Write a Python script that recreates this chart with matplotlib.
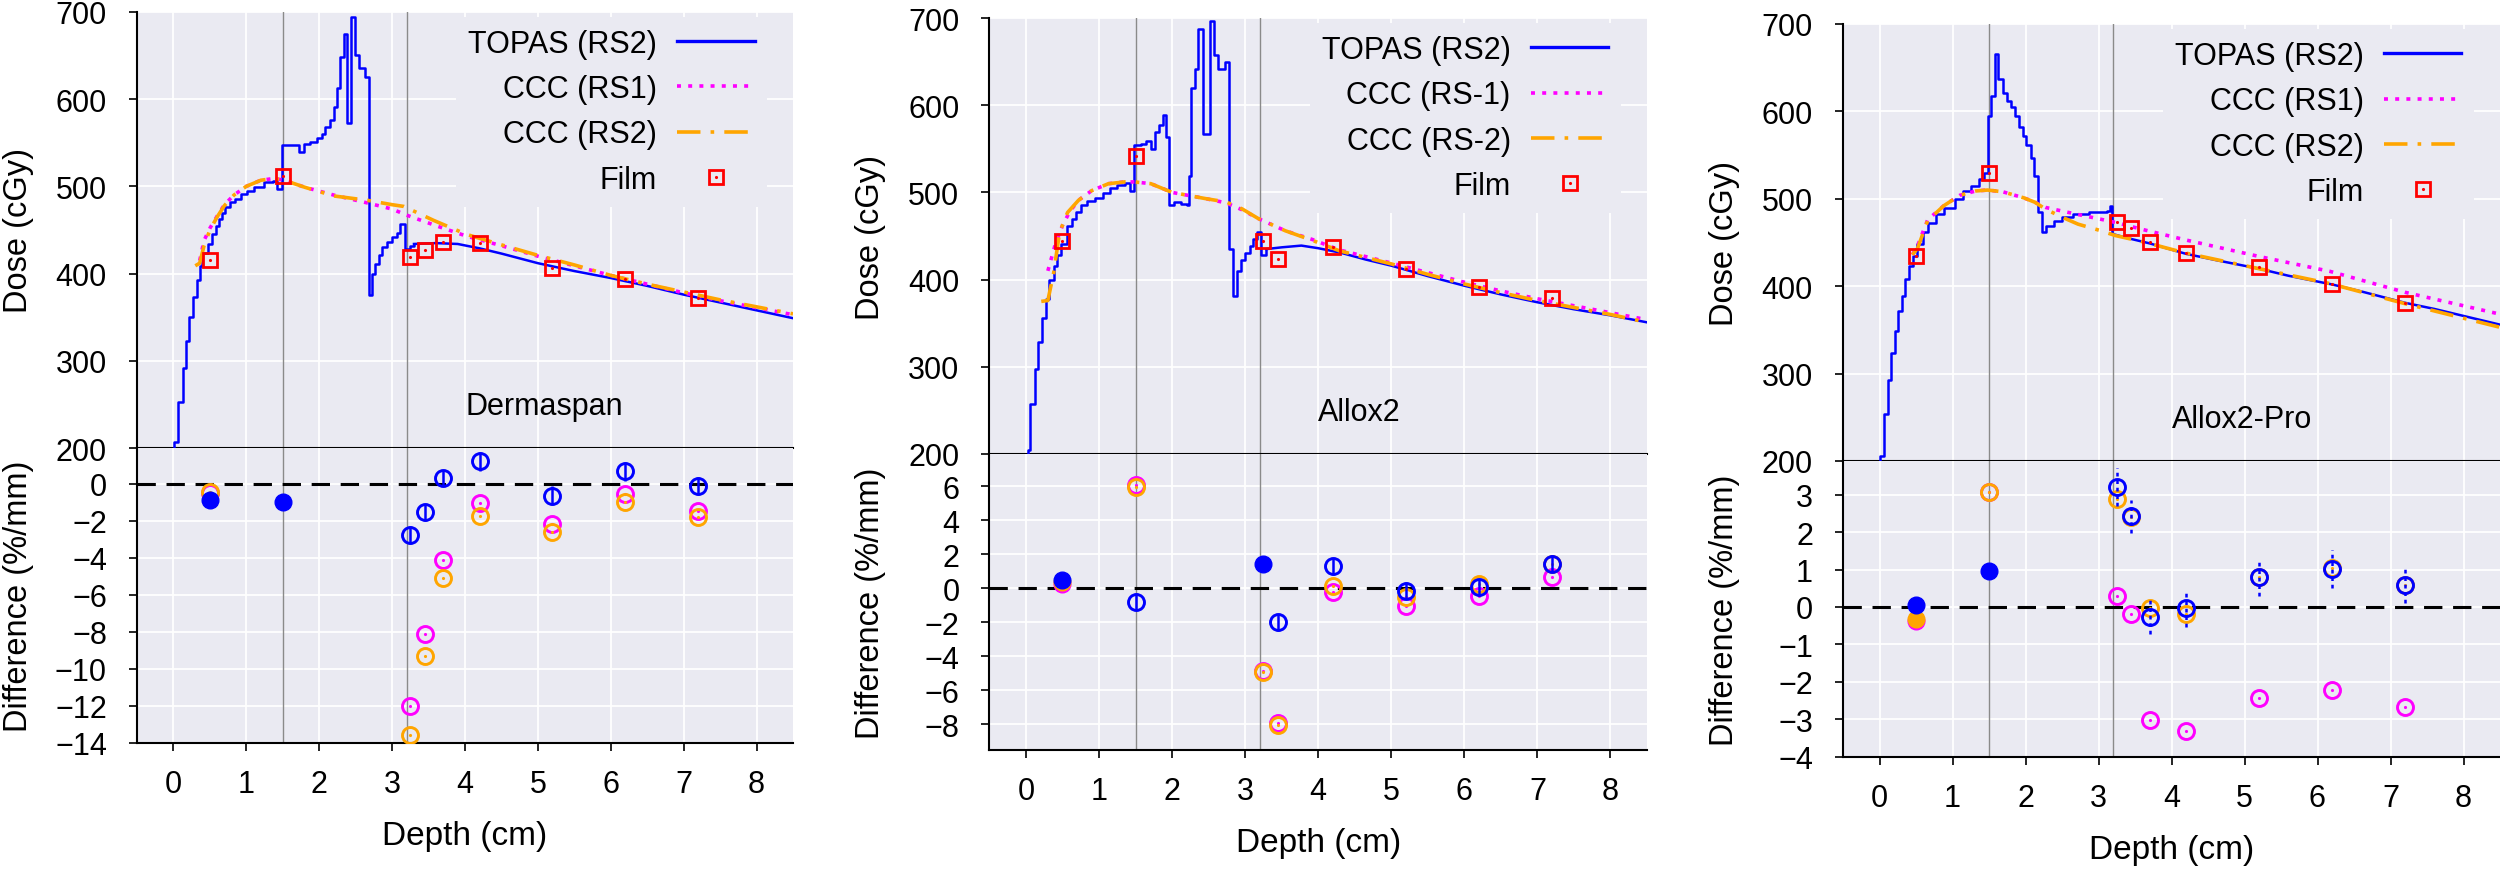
import matplotlib
matplotlib.use("Agg")
import matplotlib.pyplot as plt
import numpy as np
from matplotlib.legend_handler import HandlerTuple

plt.rcParams['font.family'] = ['Liberation Sans', 'DejaVu Sans']

# ---------------- depth dose curves (cGy) ----------------
# Dermaspan
d1_step_depth = [0.01, 0.01, 0.06, 0.13, 0.17, 0.22, 0.27, 0.32, 0.36, 0.39, 0.47, 0.53, 0.58, 0.62,
                 0.67, 0.71, 0.78, 0.85, 0.92, 1.01, 1.10, 1.24, 1.36, 1.42, 1.49, 1.72, 1.79, 1.88,
                 1.97, 2.04, 2.08, 2.15, 2.20, 2.25, 2.29, 2.34, 2.38, 2.43, 2.49, 2.54, 2.63, 2.68,
                 2.73, 2.77, 2.82, 2.86, 2.93, 3.00, 3.07, 3.11, 3.18, 3.25, 3.30]
d1_step_dose = [150, 207, 253, 292, 323, 350, 373, 393, 409, 424, 434, 445, 455, 463,
                470, 476, 482, 486, 491, 495, 499, 505, 506, 497, 547, 539, 548, 551,
                555, 560, 568, 576, 591, 613, 648, 674, 572, 694, 650, 635, 625, 375,
                400, 411, 421, 430, 436, 442, 447, 457, 428, 432, 434]
d1_tail_depth = [3.30, 3.6, 3.9, 4.2, 4.5, 5.0, 5.5, 6.0, 6.5, 7.0, 7.5, 8.0, 8.5]
d1_tail_dose = [434, 435, 434, 429, 423, 412, 403, 395, 386, 376, 367, 358, 349]
d1_rs1_depth = [0.36, 0.42, 0.5, 0.6, 0.7, 0.83, 1.0, 1.2, 1.38, 1.52, 1.8, 2.2, 2.66, 3.0, 3.2,
                3.4, 3.6, 4.02, 4.5, 5.0, 5.5, 6.0, 6.5, 7.0, 7.5, 8.0, 8.5]
d1_rs1_dose = [415, 438, 452, 466, 479, 490, 500, 507, 509, 507, 499, 490, 481, 474, 467,
               461, 455, 443, 432, 420, 409, 398, 388, 378, 369, 361, 353]
d1_rs2_depth = [0.3, 0.36, 0.42, 0.5, 0.6, 0.7, 0.83, 1.0, 1.2, 1.38, 1.52, 1.8, 2.2, 2.66, 3.0,
                3.16, 3.34, 3.57, 4.02, 4.5, 5.0, 5.5, 6.0, 6.5, 7.0, 7.5, 8.0, 8.5]
d1_rs2_dose = [409, 412, 432, 450, 465, 478, 490, 500, 507, 509, 507, 499, 489, 484, 479,
               477, 470, 461, 445, 433, 421, 410, 398, 388, 379, 370, 362, 354]
d1_film_depth = [0.5, 1.5, 3.25, 3.45, 3.7, 4.2, 5.2, 6.2, 7.2]
d1_film_dose = [416, 512, 419, 427, 436, 435, 407, 394, 372]

# Allox2
d2_step_depth = [0.03, 0.03, 0.06, 0.12, 0.17, 0.22, 0.28, 0.32, 0.38, 0.43, 0.48, 0.56, 0.63, 0.68,
                 0.76, 0.83, 0.94, 1.05, 1.15, 1.25, 1.35, 1.42, 1.48, 1.57, 1.64, 1.71, 1.77, 1.82,
                 1.88, 1.92, 1.96, 2.02, 2.12, 2.21, 2.23, 2.26, 2.32, 2.36, 2.43, 2.52, 2.58, 2.63,
                 2.73, 2.78, 2.83, 2.89, 2.94, 3.00, 3.06, 3.11, 3.16, 3.22, 3.29]
d2_step_dose = [150, 205, 257, 298, 329, 356, 378, 400, 416, 428, 441, 461, 470, 477,
                485, 490, 494, 499, 505, 509, 511, 502, 554, 556, 559, 550, 569, 577,
                589, 564, 485, 489, 487, 485, 519, 620, 642, 687, 567, 696, 658, 642,
                649, 435, 381, 410, 422, 430, 439, 447, 455, 428, 435]
d2_tail_depth = [3.29, 3.5, 3.77, 4.0, 4.3, 4.65, 5.0, 5.5, 6.0, 6.5, 7.0, 7.5, 8.0, 8.5]
d2_tail_dose = [435, 437, 439, 436, 431, 423, 416, 404, 393, 383, 374, 366, 359, 351]
d2_rs1_depth = [0.3, 0.4, 0.5, 0.6, 0.72, 0.9, 1.13, 1.35, 1.49, 1.71, 2.0, 2.45, 2.74, 2.96,
                3.18, 3.55, 3.92, 4.29, 5.0, 5.5, 6.0, 6.5, 7.0, 7.5, 8.0, 8.5]
d2_rs1_dose = [410, 440, 462, 478, 491, 502, 510, 512, 512, 510, 500, 493, 488, 480,
               470, 456, 446, 434, 419, 408, 397, 387, 378, 370, 362, 354]
d2_rs2_depth = [0.21, 0.3, 0.38, 0.46, 0.57, 0.72, 0.9, 1.13, 1.35, 1.49, 1.71, 2.0, 2.45, 2.74,
                2.96, 3.18, 3.55, 3.92, 4.29, 5.0, 5.5, 6.0, 6.5, 7.0, 7.5, 8.0, 8.5]
d2_rs2_dose = [375, 376, 408, 454, 477, 491, 502, 510, 512, 512, 510, 500, 493, 489,
               481, 470, 456, 445, 433, 418, 406, 395, 385, 376, 368, 360, 351]
d2_film_depth = [0.5, 1.5, 3.25, 3.45, 4.2, 5.2, 6.2, 7.2]
d2_film_dose = [444, 542, 444, 424, 437, 412, 392, 379]

# Allox2-Pro
d3_step_depth = [0.0, 0.0, 0.06, 0.11, 0.16, 0.21, 0.26, 0.31, 0.35, 0.40, 0.46, 0.52, 0.59, 0.66,
                 0.77, 0.88, 1.03, 1.14, 1.25, 1.36, 1.43, 1.48, 1.53, 1.58, 1.63, 1.69, 1.75, 1.80,
                 1.85, 1.91, 1.97, 2.01, 2.07, 2.12, 2.17, 2.22, 2.28, 2.39, 2.50, 2.65, 2.87, 3.12,
                 3.16, 3.18]
d3_step_dose = [150, 206, 254, 293, 324, 349, 372, 389, 408, 423, 435, 448, 462, 472,
                483, 490, 500, 509, 515, 523, 530, 595, 618, 666, 637, 621, 612, 605,
                595, 582, 572, 561, 547, 526, 485, 462, 469, 475, 479, 483, 485, 486,
                492, 460]
d3_tail_depth = [3.18, 3.4, 3.7, 4.2, 4.6, 5.2, 5.6, 6.2, 6.6, 7.2, 7.6, 8.0, 8.5]
d3_tail_dose = [460, 455, 449, 437, 430, 420, 412, 402, 394, 381, 374, 366, 356]
d3_rs1_depth = [0.45, 0.52, 0.66, 0.88, 1.1, 1.32, 1.48, 1.69, 1.98, 2.13, 2.28, 2.5, 2.72,
                3.01, 3.23, 3.6, 4.19, 5.2, 6.17, 7.2, 8.5]
d3_rs1_dose = [436, 446, 476, 492, 504, 509, 510, 508, 501, 496, 490, 486, 482,
               477, 473, 465, 453, 434, 417, 393, 368]
d3_rs2_depth = [0.45, 0.52, 0.66, 0.88, 1.1, 1.32, 1.48, 1.69, 1.98, 2.13, 2.28, 2.5, 2.72,
                3.01, 3.23, 3.6, 4.19, 5.2, 6.17, 7.2, 8.5]
d3_rs2_dose = [436, 443, 475, 492, 504, 509, 510, 508, 501, 496, 488, 479, 471,
               464, 458, 451, 438, 420, 403, 380, 353]
d3_film_depth = [0.5, 1.5, 3.25, 3.45, 3.7, 4.2, 5.2, 6.2, 7.2]
d3_film_dose = [434, 529, 474, 467, 450, 438, 422, 403, 381]

# ---------------- differences (%/mm) ----------------
nan = np.nan
diff1_depth = [0.5, 1.5, 3.25, 3.45, 3.7, 4.2, 5.2, 6.2, 7.2]
diff1_topas = [-0.9, -1.02, -2.79, -1.56, 0.29, 1.19, -0.66, 0.65, -0.13]
diff1_err = [nan, nan, 0.5, 0.45, 0.45, 0.5, 0.5, 0.5, 0.5]
diff1_rs1 = [-0.5, nan, -12.0, -8.12, -4.12, -1.06, -2.19, -0.58, -1.47]
diff1_rs2 = [-0.45, nan, -13.57, -9.29, -5.12, -1.74, -2.64, -0.99, -1.83]
diff1_ccc_filled = [0, 0, 0, 0, 0, 0, 0, 0, 0]

diff2_depth = [0.5, 1.5, 3.25, 3.45, 4.2, 5.2, 6.2, 7.2]
diff2_topas = [0.49, -0.79, 1.4, -2.0, 1.3, -0.14, 0.06, 1.44]
diff2_err = [nan, 0.5, nan, 0.5, 0.5, 0.5, 0.5, 0.5]
diff2_rs1 = [0.26, 6.1, -4.85, -7.95, -0.24, -1.02, -0.43, 0.65]
diff2_rs2 = [0.35, 5.96, -4.9, -8.06, 0.16, -0.53, 0.26, 1.44]
diff2_ccc_filled = [1, 0, 0, 0, 0, 0, 0, 0]

diff3_depth = [0.5, 1.5, 3.25, 3.45, 3.7, 4.2, 5.2, 6.2, 7.2]
diff3_topas = [0.04, 0.95, 3.21, 2.42, -0.26, -0.04, 0.79, 1.02, 0.6]
diff3_err = [nan, nan, 0.5, 0.45, 0.45, 0.5, 0.5, 0.5, 0.5]
diff3_rs1 = [-0.37, 3.06, 0.3, -0.2, -3.01, -3.32, -2.44, -2.22, -2.66]
diff3_rs2 = [-0.32, 3.06, 2.89, 2.4, -0.04, -0.19, 0.79, 1.05, 0.6]
diff3_ccc_filled = [1, 0, 0, 0, 0, 0, 0, 0, 0]

materials = ["Dermaspan", "Allox2", "Allox2-Pro"]
labels1 = ["TOPAS (RS2)", "CCC (RS1)", "CCC (RS2)", "Film"]
labels2 = ["TOPAS (RS2)", "CCC (RS-1)", "CCC (RS-2)", "Film"]
labels3 = ["TOPAS (RS2)", "CCC (RS1)", "CCC (RS2)", "Film"]
interfaces = [1.5, 3.2]

BG = '#EAEAF2'
BLUE = '#0000FF'
MAG = '#FF00FF'
ORA = '#FFA500'

W, H = 2500, 870
fig = plt.figure(figsize=(W / 100, H / 100), dpi=100)

# pixel boxes: left, right, top, split, bottom
boxes = [(137, 793, 12.7, 449.3, 744), (989.4, 1647, 19, 455, 750.7), (1843, 2500, 25, 462, 757.7)]


def style(ax):
    ax.set_facecolor(BG)
    ax.grid(True, color='white', lw=1.3)
    ax.set_axisbelow(True)
    ax.spines['top'].set_visible(False)
    ax.spines['right'].set_visible(False)
    ax.spines['left'].set_linewidth(1.5)
    ax.spines['bottom'].set_linewidth(1.5)
    ax.tick_params(labelsize=22, width=1.2, length=6, direction='out')
    ax.tick_params(axis='x', pad=12.7)
    ax.tick_params(axis='y', pad=15.6)
    ax.set_xlim(-0.5, 8.5)
    ax.set_xticks(range(0, 9))
    for x in interfaces:
        ax.axvline(x, color='#8a8a8a', lw=1, zorder=1.5)


def panel(box, step, tail, rs1, rs2, film, diff, labels, name, ylim_b, yticks_b, dotted_err):
    l, r, t, s, b = box
    top = fig.add_axes([l / W, 1 - s / H, (r - l) / W, (s - t) / H])
    bot = fig.add_axes([l / W, 1 - b / H, (r - l) / W, (b - s) / H])

    style(top)
    top.set_ylim(200, 700)
    top.set_yticks(range(200, 701, 100))
    top.tick_params(axis='x', labelbottom=False, length=5)
    top.set_ylabel("Dose (cGy)", fontsize=23.5)
    top.yaxis.set_label_coords(-0.157, 0.5)

    top.plot(step[0], step[1], drawstyle='steps-post', color=BLUE, lw=1.8, zorder=3)
    h_topas, = top.plot(tail[0], tail[1], color=BLUE, lw=1.8, zorder=3)
    h_rs1, = top.plot(rs1[0], rs1[1], color=MAG, lw=2.6, ls=(0, (1.1, 2.0)), zorder=4)
    h_rs2, = top.plot(rs2[0], rs2[1], color=ORA, lw=2.6, ls=(0, (6.5, 2.8, 1, 2.8)), zorder=4)
    h_sq, = top.plot(film[0], film[1], 's', ms=10.5, mfc='none', mec='red', mew=2.0, zorder=5)
    h_dot, = top.plot(film[0], film[1], '.', ms=2.5, color='red', zorder=5)
    top.text(4.0, 248, name, ha='left', va='center', fontsize=22)

    leg = top.legend([h_topas, h_rs1, h_rs2, (h_sq, h_dot)], labels,
                     handler_map={tuple: HandlerTuple(ndivide=1)},
                     loc='upper right', bbox_to_anchor=(0.96, 0.989), borderaxespad=0,
                     markerfirst=False, fontsize=22, handlelength=2.55, handletextpad=0.65,
                     labelspacing=0.5, borderpad=0.4, fancybox=False, framealpha=1,
                     facecolor=BG, edgecolor='none')
    leg.set_zorder(6)
    leg.get_lines()[0].set_linewidth(2.4)

    style(bot)
    bot.spines['top'].set_visible(False)
    bot.set_ylim(*ylim_b)
    bot.set_yticks(yticks_b)
    bot.set_xlabel("Depth (cm)", fontsize=24)
    bot.xaxis.set_label_coords(0.5, -0.26)
    bot.set_ylabel("Difference (%/mm)", fontsize=23.5)
    bot.yaxis.set_label_coords(-0.157, 0.5)
    bot.axhline(0, color='black', lw=2.2, ls=(0, (6, 3.5)), zorder=2)

    x = np.array(diff[0], float)
    filled = np.array(diff[5], bool)
    for vals, c in [(diff[3], MAG), (diff[4], ORA)]:
        v = np.array(vals, float)
        bot.plot(x[~filled], v[~filled], 'o', ms=11.5, mfc='none', mec=c, mew=2.1, zorder=3)
        bot.plot(x[filled], v[filled], 'o', ms=12, mfc=c, mec=c, zorder=3)
        bot.plot(x[~filled], v[~filled], '.', ms=2.5, color=c, zorder=3)

    v = np.array(diff[1], float)
    e = np.array(diff[2], float)
    has = ~np.isnan(e)
    eb = bot.errorbar(x[has], v[has], yerr=e[has], fmt='o', ms=11.5, mfc='none', mec=BLUE,
                      mew=2.1, ecolor=BLUE, elinewidth=1.8, capsize=0, zorder=4)
    if dotted_err:
        eb[2][0].set_linestyle((0, (1.5, 1.5)))
    bot.plot(x[~has], v[~has], 'o', ms=12, color=BLUE, zorder=4)


panel(boxes[0], (d1_step_depth, d1_step_dose), (d1_tail_depth, d1_tail_dose),
      (d1_rs1_depth, d1_rs1_dose), (d1_rs2_depth, d1_rs2_dose), (d1_film_depth, d1_film_dose),
      (diff1_depth, diff1_topas, diff1_err, diff1_rs1, diff1_rs2, diff1_ccc_filled),
      labels1, materials[0], (-14, 1.9), range(-14, 1, 2), False)
panel(boxes[1], (d2_step_depth, d2_step_dose), (d2_tail_depth, d2_tail_dose),
      (d2_rs1_depth, d2_rs1_dose), (d2_rs2_depth, d2_rs2_dose), (d2_film_depth, d2_film_dose),
      (diff2_depth, diff2_topas, diff2_err, diff2_rs1, diff2_rs2, diff2_ccc_filled),
      labels2, materials[1], (-9.5, 7.9), range(-8, 7, 2), False)
panel(boxes[2], (d3_step_depth, d3_step_dose), (d3_tail_depth, d3_tail_dose),
      (d3_rs1_depth, d3_rs1_dose), (d3_rs2_depth, d3_rs2_dose), (d3_film_depth, d3_film_dose),
      (diff3_depth, diff3_topas, diff3_err, diff3_rs1, diff3_rs2, diff3_ccc_filled),
      labels3, materials[2], (-4, 3.9), range(-4, 4, 1), True)

fig.savefig("out.png", dpi=100)
